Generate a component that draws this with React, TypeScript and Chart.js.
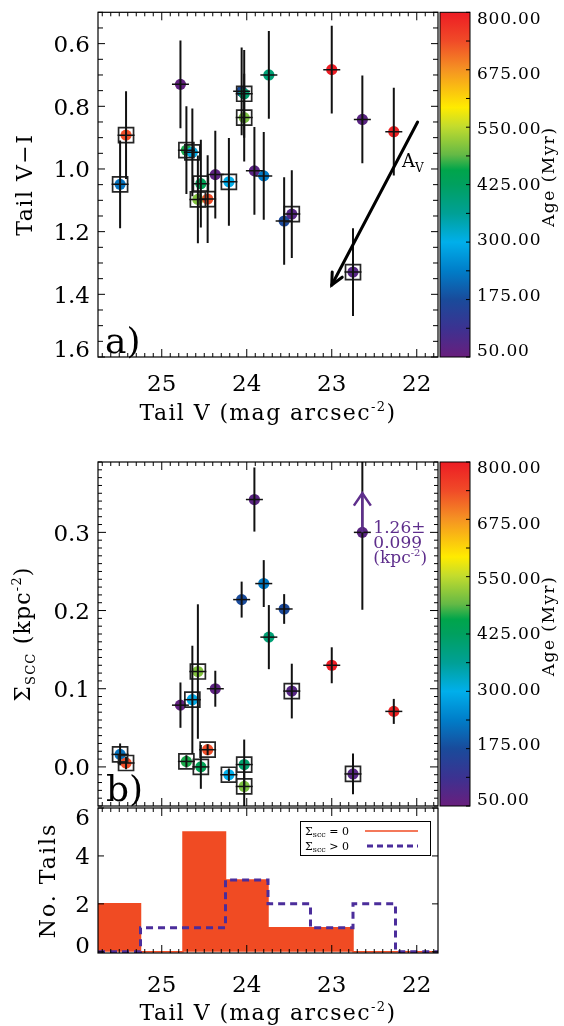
import React, { useEffect, useRef } from 'react';
import { Chart, registerables } from 'chart.js';
Chart.register(...registerables);

const SERIF = '"DejaVu Serif", serif';

// ---------------- data ----------------
const TAIL_V = [25.49, 25.42, 24.78, 24.71, 24.64, 24.575, 24.54, 24.46, 24.37, 24.21, 24.06, 24.03, 24.03, 23.91, 23.80, 23.74, 23.56, 23.47, 23.00, 22.75, 22.64, 22.27];
const TAIL_V_ERR = [0.1, 0.1, 0.1, 0.1, 0.1, 0.1, 0.1, 0.1, 0.1, 0.1, 0.1, 0.1, 0.1, 0.1, 0.1, 0.1, 0.1, 0.1, 0.1, 0.1, 0.1, 0.1];
const TAIL_VI = [1.049, 0.892, 0.730, 0.940, 0.947, 1.097, 1.047, 1.096, 1.018, 1.041, 0.752, 0.760, 0.836, 1.006, 1.022, 0.700, 1.166, 1.144, 0.683, 1.329, 0.842, 0.881];
const TAIL_VI_ERR = [0.14, 0.14, 0.14, 0.14, 0.14, 0.14, 0.14, 0.14, 0.14, 0.14, 0.14, 0.14, 0.14, 0.14, 0.14, 0.14, 0.14, 0.14, 0.14, 0.14, 0.14, 0.14];
const SIGMA_SCC = [0.016, 0.005, 0.079, 0.007, 0.086, 0.122, 0.000, 0.022, 0.100, -0.010, 0.214, 0.003, -0.025, 0.342, 0.2345, 0.166, 0.202, 0.097, 0.130, -0.009, 0.300, 0.071];
const SIGMA_SCC_ERR = [0.014, 0.008, 0.029, 0.008, 0.069, 0.086, 0.028, 0.007, 0.023, 0.008, 0.023, 0.032, 0.028, 0.041, 0.030, 0.041, 0.019, 0.035, 0.023, 0.026, 0.099, 0.016];
const AGE_MYR = [225, 735, 60, 465, 295, 510, 440, 735, 65, 300, 175, 410, 505, 70, 235, 400, 170, 75, 800, 75, 70, 790];
const SIGMA_ZERO = [1, 1, 0, 1, 1, 1, 1, 1, 0, 1, 0, 1, 1, 0, 0, 0, 0, 1, 0, 1, 0, 0];

const BIN_EDGES = [25.75, 25.25, 24.75, 24.25, 23.75, 23.25, 22.75, 22.25, 21.75];
const N_SIGMA_ZERO = [2, 0, 5, 3, 1, 1, 0, 0];
const N_SIGMA_POS = [0, 1, 1, 3, 2, 1, 2, 0];

const X_TICKS = [25, 24, 23, 22];
const X_TICK_LABELS = ['25', '24', '23', '22'];
const VI_TICKS = [0.6, 0.8, 1.0, 1.2, 1.4, 1.6];
const VI_TICK_LABELS = ['0.6', '0.8', '1.0', '1.2', '1.4', '1.6'];
const SIG_TICKS = [0.0, 0.1, 0.2, 0.3];
const SIG_TICK_LABELS = ['0.0', '0.1', '0.2', '0.3'];
const HIST_TICKS = [0, 2, 4, 6];
const HIST_TICK_LABELS = ['0', '2', '4', '6'];
const AGE_TICKS = [800, 675, 550, 425, 300, 175, 50];
const AGE_TICK_LABELS = ['800.00', '675.00', '550.00', '425.00', '300.00', '175.00', '50.00'];

// annotation anchors (data coordinates)
const AV_ARROW = { x0: 21.99, y0: 0.85, x1: 23.0, y1: 1.37 };
const LIMIT_ARROW = { x: 22.64, y0: 0.30, y1: 0.35 };
const LIMIT_TEXT = ['1.26\u00b1', '0.099'];

// ---------------- style ----------------
const CMAP: number[][] = [
  [50, 105, 30, 125], [112, 60, 50, 145], [175, 25, 75, 155], [237, 0, 125, 200],
  [300, 0, 175, 235], [362, 0, 160, 150], [425, 0, 160, 95], [457, 0, 165, 75],
  [490, 100, 185, 70], [552, 195, 220, 45], [593, 255, 235, 0], [677, 245, 145, 35],
  [737, 240, 75, 40], [800, 237, 28, 36],
];
const AGE_MIN = 50, AGE_MAX = 800;
const RED = '#F04B23';
const PURPLE = '#4B2D9B';
const ANNOT = '#5E2E8C';

function ageColor(a: number): string {
  const s = CMAP;
  if (a <= s[0][0]) return `rgb(${s[0][1]},${s[0][2]},${s[0][3]})`;
  for (let i = 1; i < s.length; i++) {
    if (a <= s[i][0]) {
      const t = (a - s[i - 1][0]) / (s[i][0] - s[i - 1][0]);
      const c = [1, 2, 3].map(k => Math.round(s[i - 1][k] + t * (s[i][k] - s[i - 1][k])));
      return `rgb(${c[0]},${c[1]},${c[2]})`;
    }
  }
  const l = s[s.length - 1];
  return `rgb(${l[1]},${l[2]},${l[3]})`;
}

type Run = { t: string; size: number; dy?: number };
function drawRuns(ctx: CanvasRenderingContext2D, runs: Run[], x: number, y: number,
  opt: { align?: 'left' | 'center' | 'right'; rot?: number; color?: string; spacing?: number } = {}) {
  const { align = 'left', rot = 0, color = '#000', spacing = 0 } = opt;
  ctx.save();
  ctx.translate(x, y);
  if (rot) ctx.rotate(rot);
  ctx.fillStyle = color;
  ctx.textBaseline = 'alphabetic';
  ctx.textAlign = 'left';
  (ctx as any).letterSpacing = `${spacing}px`;
  const w = runs.map(r => { ctx.font = `${r.size}px ${SERIF}`; return ctx.measureText(r.t).width; });
  const total = w.reduce((s, v) => s + v, 0);
  let cx = align === 'center' ? -total / 2 : align === 'right' ? -total : 0;
  runs.forEach((r, i) => { ctx.font = `${r.size}px ${SERIF}`; ctx.fillText(r.t, cx, r.dy ?? 0); cx += w[i]; });
  ctx.restore();
}

function drawArrowHead(ctx: CanvasRenderingContext2D, fx: number, fy: number, tx: number, ty: number, len: number, ang: number) {
  const a = Math.atan2(ty - fy, tx - fx);
  ctx.beginPath();
  ctx.moveTo(tx - len * Math.cos(a - ang), ty - len * Math.sin(a - ang));
  ctx.lineTo(tx, ty);
  ctx.lineTo(tx - len * Math.cos(a + ang), ty - len * Math.sin(a + ang));
  ctx.stroke();
}

function gridValues(min: number, max: number, step: number): number[] {
  const out: number[] = [];
  const k0 = Math.ceil(min / step - 1e-9), k1 = Math.floor(max / step + 1e-9);
  for (let k = k0; k <= k1; k++) out.push(+(k * step).toFixed(6));
  return out;
}
const isMult = (v: number, m: number) => Math.abs(v / m - Math.round(v / m)) < 1e-6;

interface Decor {
  yMinor: number; yMajor: number; yMajorLen?: number; yMinorLen?: number;
  yTicks: number[]; yLabels: string[];
  xLabelBaseline?: number;
  xTitleBaseline?: number;
  yTitle: { runs: Run[]; x: number; spacing: number };
  colorbar?: boolean;
  errors?: { x: number[]; y: number[]; xe: number[]; ye: number[] };
  extra?: (chart: any) => void;
}

const X_TITLE: Run[] = [{ t: 'Tail V (mag arcsec', size: 22 }, { t: '-2', size: 13, dy: -9 }, { t: ')', size: 22 }];

function decorPlugin(cfg: Decor) {
  return {
    id: 'decor',
    afterDatasetsDraw(chart: any) {
      if (!cfg.errors) return;
      const ctx: CanvasRenderingContext2D = chart.ctx;
      const a = chart.chartArea, xs = chart.scales.x, ys = chart.scales.y;
      const e = cfg.errors;
      ctx.save();
      ctx.beginPath(); ctx.rect(a.left, a.top, a.right - a.left, a.bottom - a.top); ctx.clip();
      ctx.strokeStyle = '#111';
      e.x.forEach((xv, i) => {
        const px = xs.getPixelForValue(xv), py = ys.getPixelForValue(e.y[i]);
        ctx.lineWidth = 2;
        ctx.beginPath();
        ctx.moveTo(px, ys.getPixelForValue(e.y[i] - e.ye[i]));
        ctx.lineTo(px, ys.getPixelForValue(e.y[i] + e.ye[i]));
        ctx.stroke();
        ctx.lineWidth = 1.5;
        ctx.beginPath();
        ctx.moveTo(xs.getPixelForValue(xv - e.xe[i]), py);
        ctx.lineTo(xs.getPixelForValue(xv + e.xe[i]), py);
        ctx.stroke();
      });
      ctx.restore();
    },
    afterDraw(chart: any) {
      const ctx: CanvasRenderingContext2D = chart.ctx;
      const a = chart.chartArea, xs = chart.scales.x, ys = chart.scales.y;
      ctx.save();
      ctx.strokeStyle = '#000';
      ctx.lineWidth = 1.2;
      ctx.strokeRect(a.left, a.top, a.right - a.left, a.bottom - a.top);
      // x ticks
      ctx.lineWidth = 1;
      for (const v of gridValues(xs.min, xs.max, 0.1)) {
        const px = xs.getPixelForValue(v);
        const len = isMult(v, 1) ? 8 : 4;
        ctx.beginPath();
        ctx.moveTo(px, a.bottom); ctx.lineTo(px, a.bottom - len);
        ctx.moveTo(px, a.top); ctx.lineTo(px, a.top + len);
        ctx.stroke();
      }
      // y ticks
      for (const v of gridValues(ys.min, ys.max, cfg.yMinor)) {
        const py = ys.getPixelForValue(v);
        const len = isMult(v, cfg.yMajor) ? (cfg.yMajorLen ?? 8) : (cfg.yMinorLen ?? 4);
        ctx.beginPath();
        ctx.moveTo(a.left, py); ctx.lineTo(a.left + len, py);
        ctx.moveTo(a.right, py); ctx.lineTo(a.right - len, py);
        ctx.stroke();
      }
      ctx.restore();
      // y labels
      cfg.yTicks.forEach((v, i) => {
        const py = ys.getPixelForValue(v);
        const c = Math.min(Math.max(py, a.top + 8.5), a.bottom - 8.5);
        drawRuns(ctx, [{ t: cfg.yLabels[i], size: 23 }], a.left - 8, c + 8.4, { align: 'right' });
      });
      // x labels + title
      if (cfg.xLabelBaseline !== undefined) {
        X_TICKS.forEach((v, i) => {
          drawRuns(ctx, [{ t: X_TICK_LABELS[i], size: 23 }], xs.getPixelForValue(v), cfg.xLabelBaseline!, { align: 'center' });
        });
      }
      if (cfg.xTitleBaseline !== undefined) {
        drawRuns(ctx, X_TITLE, (a.left + a.right) / 2, cfg.xTitleBaseline, { align: 'center', spacing: 1.4 });
      }
      drawRuns(ctx, cfg.yTitle.runs, cfg.yTitle.x, (a.top + a.bottom) / 2, { align: 'center', rot: -Math.PI / 2, spacing: cfg.yTitle.spacing });
      // colorbar
      if (cfg.colorbar) {
        const x0 = a.right + 2, x1 = a.right + 32, y0 = a.top, y1 = a.bottom;
        const g = ctx.createLinearGradient(0, y1, 0, y0);
        CMAP.forEach(s => g.addColorStop((s[0] - AGE_MIN) / (AGE_MAX - AGE_MIN), `rgb(${s[1]},${s[2]},${s[3]})`));
        ctx.save();
        ctx.fillStyle = g;
        ctx.fillRect(x0, y0, x1 - x0, y1 - y0);
        ctx.strokeStyle = '#000'; ctx.lineWidth = 1;
        ctx.strokeRect(x0, y0, x1 - x0, y1 - y0);
        for (let v = AGE_MIN; v <= AGE_MAX + 1e-6; v += 62.5) {
          const py = y1 - (v - AGE_MIN) / (AGE_MAX - AGE_MIN) * (y1 - y0);
          ctx.beginPath(); ctx.moveTo(x1, py); ctx.lineTo(x1 - 4, py); ctx.stroke();
        }
        ctx.restore();
        const c0 = y0 + 5, c1 = y1 - 7;
        AGE_TICK_LABELS.forEach((lab, i) => {
          const c = c0 + (c1 - c0) * i / (AGE_TICK_LABELS.length - 1);
          drawRuns(ctx, [{ t: lab, size: 17 }], x1 + 7, c + 6.2, { spacing: 0.8 });
        });
        drawRuns(ctx, [{ t: 'Age (Myr)', size: 17 }], 554, (y0 + y1) / 2 - 8, { align: 'center', rot: -Math.PI / 2, spacing: 1.5 });
      }
      cfg.extra?.(chart);
    },
  };
}

function baseOptions(top: number, bottom: number, yMin: number, yMax: number, yReverse: boolean) {
  return {
    responsive: false,
    animation: false as const,
    events: [] as any[],
    layout: { padding: { left: 98, right: 126, top, bottom: 1026 - bottom } },
    plugins: { legend: { display: false }, tooltip: { enabled: false } },
    scales: {
      x: { type: 'linear' as const, reverse: true, min: 21.75, max: 25.75, display: false },
      y: { type: 'linear' as const, reverse: yReverse, min: yMin, max: yMax, display: false },
    },
  };
}

const colors = AGE_MYR.map(ageColor);

function scatterDatasets(yv: number[]) {
  const pts = TAIL_V.map((x, i) => ({ x, y: yv[i] }));
  return [
    {
      label: 'boxes',
      data: pts.filter((_, i) => SIGMA_ZERO[i] === 1),
      pointStyle: 'rect', pointRadius: 10.6, pointBorderWidth: 1.7,
      pointBorderColor: '#262626', pointBackgroundColor: 'rgba(0,0,0,0)', showLine: false,
    },
    {
      label: 'tails',
      data: pts,
      pointRadius: 5.6, pointBorderWidth: 0,
      pointBackgroundColor: colors, pointBorderColor: colors, showLine: false,
    },
  ];
}

function configA(): any {
  return {
    type: 'scatter',
    data: { datasets: scatterDatasets(TAIL_VI) },
    options: baseOptions(9, 357, 0.5, 1.6, true),
    plugins: [decorPlugin({
      yMinor: 0.05, yMajor: 0.2, yMajorLen: 7, yMinorLen: 5,
      yTicks: VI_TICKS, yLabels: VI_TICK_LABELS,
      xLabelBaseline: 391, xTitleBaseline: 419.5,
      yTitle: { runs: [{ t: 'Tail V\u2212I', size: 22 }], x: 31.5, spacing: 1.5 },
      colorbar: true,
      errors: { x: TAIL_V, y: TAIL_VI, xe: TAIL_V_ERR, ye: TAIL_VI_ERR },
      extra: (chart: any) => {
        const ctx: CanvasRenderingContext2D = chart.ctx;
        const xs = chart.scales.x, ys = chart.scales.y;
        const fx = xs.getPixelForValue(AV_ARROW.x0), fy = ys.getPixelForValue(AV_ARROW.y0);
        const tx = xs.getPixelForValue(AV_ARROW.x1), ty = ys.getPixelForValue(AV_ARROW.y1);
        ctx.save();
        ctx.strokeStyle = '#000'; ctx.lineWidth = 3; ctx.lineCap = 'round';
        ctx.beginPath(); ctx.moveTo(fx, fy); ctx.lineTo(tx, ty); ctx.stroke();
        drawArrowHead(ctx, fx, fy, tx, ty, 13, 0.45);
        ctx.restore();
        drawRuns(ctx, [{ t: 'A', size: 18 }, { t: 'V', size: 12, dy: 5 }], 402, 167);
        drawRuns(ctx, [{ t: 'a)', size: 36 }], 105, 353);
      },
    })],
  };
}

function configB(): any {
  return {
    type: 'scatter',
    data: { datasets: scatterDatasets(SIGMA_SCC) },
    options: baseOptions(462, 806, -0.05, 0.39, false),
    plugins: [decorPlugin({
      yMinor: 0.01, yMajor: 0.1,
      yTicks: SIG_TICKS, yLabels: SIG_TICK_LABELS,
      yTitle: {
        runs: [{ t: '\u03a3', size: 22 }, { t: 'SCC', size: 13, dy: 5 }, { t: ' (kpc', size: 22 }, { t: '-2', size: 13, dy: -9 }, { t: ')', size: 22 }],
        x: 30, spacing: 1.2,
      },
      colorbar: true,
      errors: { x: TAIL_V, y: SIGMA_SCC, xe: TAIL_V_ERR, ye: SIGMA_SCC_ERR },
      extra: (chart: any) => {
        const ctx: CanvasRenderingContext2D = chart.ctx;
        const xs = chart.scales.x, ys = chart.scales.y;
        const px = xs.getPixelForValue(LIMIT_ARROW.x);
        const py0 = ys.getPixelForValue(LIMIT_ARROW.y0), py1 = ys.getPixelForValue(LIMIT_ARROW.y1);
        ctx.save();
        ctx.strokeStyle = ANNOT; ctx.lineWidth = 2.5;
        ctx.beginPath(); ctx.moveTo(px, py0); ctx.lineTo(px, py1); ctx.stroke();
        drawArrowHead(ctx, px, py0, px, py1, 15, 0.6);
        ctx.restore();
        const tx = px + 11;
        drawRuns(ctx, [{ t: LIMIT_TEXT[0], size: 17 }], tx, py0 + 0.5, { color: ANNOT });
        drawRuns(ctx, [{ t: LIMIT_TEXT[1], size: 17 }], tx, py0 + 15.5, { color: ANNOT });
        drawRuns(ctx, [{ t: '(kpc', size: 17 }, { t: '-2', size: 10, dy: -7 }, { t: ')', size: 17 }], tx, py0 + 30.5, { color: ANNOT });
        drawRuns(ctx, [{ t: 'b)', size: 36 }], 106, 801);
      },
    })],
  };
}

const stepPoints = (counts: number[]) => BIN_EDGES.map((e, i) => ({ x: e, y: counts[Math.min(i, counts.length - 1)] }));

function configC(): any {
  const opts: any = baseOptions(808, 953, -0.05, 6, false);
  return {
    type: 'line',
    data: {
      datasets: [
        {
          label: '\u03a3scc > 0', data: stepPoints(N_SIGMA_POS), stepped: true,
          borderColor: PURPLE, borderWidth: 3, borderDash: [7, 5], pointRadius: 0, fill: false,
        },
        {
          label: '\u03a3scc = 0', data: stepPoints(N_SIGMA_ZERO), stepped: true,
          borderColor: RED, backgroundColor: RED, borderWidth: 1.5, pointRadius: 0, fill: 'origin',
        },
      ],
    },
    options: opts,
    plugins: [decorPlugin({
      yMinor: 2, yMajor: 2, yMajorLen: 6,
      yTicks: HIST_TICKS, yLabels: HIST_TICK_LABELS,
      xLabelBaseline: 991.5, xTitleBaseline: 1020,
      yTitle: { runs: [{ t: 'No. Tails', size: 22 }], x: 55, spacing: 2 },
      extra: (chart: any) => {
        const ctx: CanvasRenderingContext2D = chart.ctx;
        ctx.save();
        ctx.fillStyle = '#fff';
        ctx.fillRect(300, 821, 130, 34);
        ctx.strokeStyle = '#000'; ctx.lineWidth = 1;
        ctx.strokeRect(300.5, 821.5, 130, 34);
        ctx.strokeStyle = RED; ctx.lineWidth = 1.5;
        ctx.beginPath(); ctx.moveTo(365, 831); ctx.lineTo(418, 831); ctx.stroke();
        ctx.strokeStyle = PURPLE; ctx.lineWidth = 3; ctx.setLineDash([6, 4]);
        ctx.beginPath(); ctx.moveTo(367, 846); ctx.lineTo(418, 846); ctx.stroke();
        ctx.restore();
        drawRuns(ctx, [{ t: '\u03a3', size: 11 }, { t: 'scc', size: 8, dy: 2 }, { t: ' = 0', size: 11 }], 305, 835);
        drawRuns(ctx, [{ t: '\u03a3', size: 11 }, { t: 'scc', size: 8, dy: 2 }, { t: ' > 0', size: 11 }], 305, 850);
      },
    })],
  };
}

export default function App() {
  const r1 = useRef<HTMLCanvasElement>(null);
  const r2 = useRef<HTMLCanvasElement>(null);
  const r3 = useRef<HTMLCanvasElement>(null);
  useEffect(() => {
    const charts = [
      new Chart(r1.current!, configA()),
      new Chart(r2.current!, configB()),
      new Chart(r3.current!, configC()),
    ];
    return () => charts.forEach(c => c.destroy());
  }, []);
  const cs: React.CSSProperties = { position: 'absolute', left: 0, top: 0, width: 564, height: 1026 };
  return (
    <div style={{ position: 'absolute', left: 0, top: 0, width: 564, height: 1026, background: '#fff', overflow: 'hidden' }}>
      <canvas ref={r1} width={564} height={1026} style={cs} />
      <canvas ref={r2} width={564} height={1026} style={cs} />
      <canvas ref={r3} width={564} height={1026} style={cs} />
    </div>
  );
}
